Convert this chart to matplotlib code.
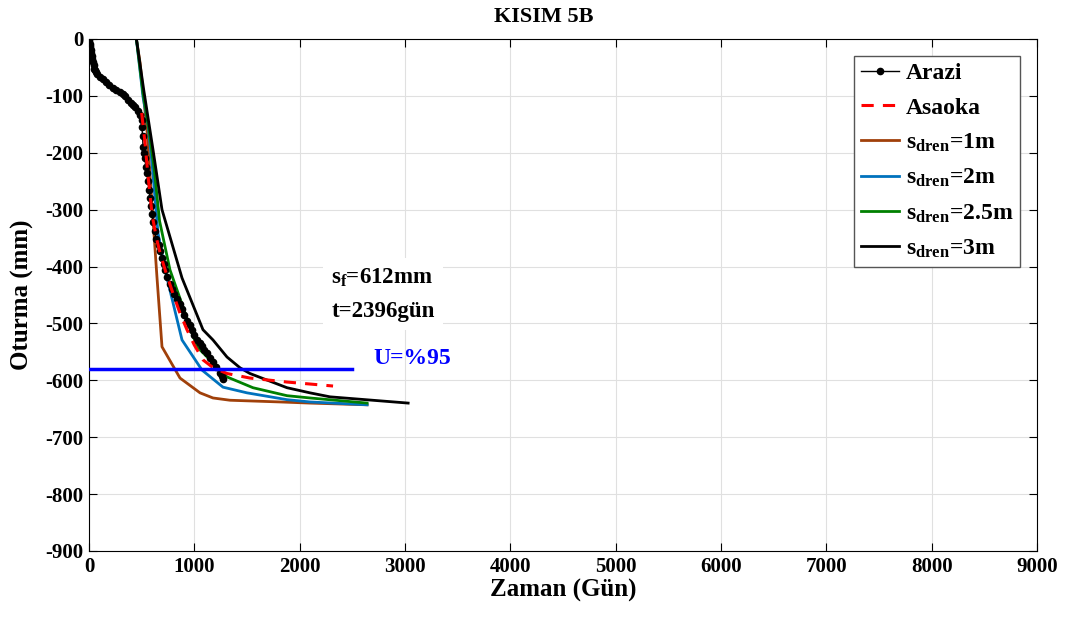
import matplotlib
matplotlib.use("Agg")
import matplotlib.pyplot as plt

plt.rcParams['font.family'] = ['Liberation Serif', 'DejaVu Serif']
plt.rcParams['font.weight'] = 'bold'
plt.rcParams['axes.unicode_minus'] = False
plt.rcParams['mathtext.fontset'] = 'custom'
plt.rcParams['mathtext.rm'] = 'Liberation Serif:bold'
plt.rcParams['mathtext.it'] = 'Liberation Serif:bold'
plt.rcParams['mathtext.bf'] = 'Liberation Serif:bold'

# Field (Arazi) data
arazi_t = [0, 3, 6, 10, 14, 18, 22, 27, 32, 38, 45, 52, 57, 65, 80, 104, 130, 160, 190, 228, 260, 290, 323,
           345, 370, 395, 418, 440, 465, 485, 500, 503, 508, 513, 520, 530, 540, 551, 560, 570, 579, 590,
           600, 608, 625, 640, 660, 674, 695, 710, 725, 740, 765, 790, 810, 835, 860, 880, 905, 930, 955,
           978, 1000, 1025, 1050, 1070, 1095, 1120, 1150, 1180, 1210, 1244, 1260, 1272]
arazi_s = [0, -4, -8, -12, -16, -20, -25, -30, -35, -40, -46, -52, -55, -58, -62, -66, -70, -75, -80, -86, -90,
           -93, -96, -100, -107, -112, -116, -120, -126, -133, -142, -155, -170, -190, -200, -210, -225, -236,
           -250, -265, -280, -293, -308, -322, -338, -352, -362, -372, -385, -395, -406, -418, -430, -440,
           -448, -457, -466, -475, -485, -495, -503, -511, -520, -529, -535, -540, -546, -552, -560, -568,
           -577, -587, -592, -597]

# Asaoka prediction
asaoka_t = [500, 530, 560, 600, 640, 680, 730, 797, 860, 930, 1000, 1082, 1180, 1310, 1528, 1880, 2317]
asaoka_s = [-130, -180, -240, -310, -350, -380, -410, -447, -480, -511, -538, -564, -578, -588, -596, -603, -610]

# Model curves (drain spacing)
t_1m = [450, 485, 550, 645, 693, 864, 1054, 1177, 1339, 1813, 2098, 2640]
s_1m = [0, -42, -160, -418, -541, -596, -622, -631, -635, -638, -640, -643]

t_2m = [450, 513, 560, 598, 655, 722, 883, 1073, 1272, 1500, 1880, 2098, 2640]
s_2m = [0, -102, -150, -218, -341, -406, -529, -582, -612, -622, -634, -638, -643]

t_25m = [450, 513, 570, 620, 670, 769, 1025, 1310, 1557, 1880, 2098, 2640]
s_25m = [0, -95, -160, -230, -320, -406, -541, -594, -613, -627, -631, -640]

t_3m = [450, 520, 608, 693, 883, 1082, 1177, 1310, 1434, 1528, 1880, 2098, 2288, 3030]
s_3m = [0, -90, -195, -300, -420, -511, -529, -559, -578, -588, -613, -622, -629, -640]

u95_t = [0, 2500]
u95_s = [-580, -580]

fig = plt.figure(figsize=(10.65, 6.19), dpi=100)
ax = fig.add_axes([89/1065, 1-551/619, (1037-89)/1065, (551-39)/619])

ax.plot(arazi_t, arazi_s, '-', color='black', lw=1, marker='o', ms=4.5, label='Arazi', zorder=3)
ax.plot(asaoka_t, asaoka_s, '--', color='#FF0000', lw=2.2, dashes=(4, 3), label='Asaoka', zorder=4)
ax.plot(t_1m, s_1m, '-', color='#A0400A', lw=2, label='s$_{\\mathrm{dren}}$=1m', zorder=2)
ax.plot(t_2m, s_2m, '-', color='#0072BD', lw=2, label='s$_{\\mathrm{dren}}$=2m', zorder=2)
ax.plot(t_25m, s_25m, '-', color='#008000', lw=2, label='s$_{\\mathrm{dren}}$=2.5m', zorder=2)
ax.plot(t_3m, s_3m, '-', color='black', lw=2, label='s$_{\\mathrm{dren}}$=3m', zorder=2)
ax.plot(u95_t, u95_s, '-', color='#0000FF', lw=2.5, zorder=5)

ax.text(2700, -562, 'U=%95', color='#0000FF', fontsize=17, fontweight='bold', ha='left', va='center')
ax.text(2300, -448, 's$_{\\mathrm{f}}$=612mm\nt=2396gün', fontsize=16.5, fontweight='bold', ha='left', va='center',
        linespacing=1.75, bbox=dict(facecolor='white', edgecolor='none', pad=6))

ax.set_xlim(0, 9000)
ax.set_ylim(-900, 0)
ax.set_xticks(range(0, 9001, 1000))
ax.set_yticks(range(-900, 1, 100))
ax.tick_params(direction='in', top=True, right=True, labelsize=15, length=6, width=0.8, pad=4)
for lab in ax.get_xticklabels() + ax.get_yticklabels():
    lab.set_fontweight('bold')
ax.grid(True, color='#e0e0e0', lw=0.8)
ax.set_axisbelow(True)
for sp in ax.spines.values():
    sp.set_linewidth(0.8)

ax.set_xlabel('Zaman (Gün)', fontsize=18, fontweight='bold', labelpad=2)
ax.set_ylabel('Oturma (mm)', fontsize=18, fontweight='bold', labelpad=8)
ax.set_title('KISIM 5B', fontsize=16, fontweight='bold', pad=12, x=0.48)

leg = ax.legend(loc='upper right', bbox_to_anchor=(1, 1), borderaxespad=0.7,
                prop={'weight': 'bold', 'size': 17}, fancybox=False, framealpha=1, edgecolor='#555555',
                handlelength=1.6, handletextpad=0.3, labelspacing=0.55, borderpad=0.3)
leg.get_frame().set_linewidth(1)

fig.savefig('out.png', dpi=100)
